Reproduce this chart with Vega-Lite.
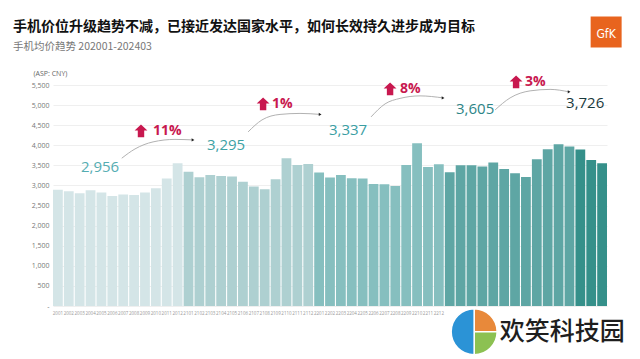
{
  "$schema": "https://vega.github.io/schema/vega-lite/v6.json",
  "width": 554,
  "height": 221,
  "autosize": {"type": "none"},
  "padding": {"left": 53, "top": 85, "right": 33, "bottom": 53},
  "background": "white",
  "config": {"view": {"stroke": null}, "font": "Noto Sans CJK SC"},
  "title": {
    "text": "手机价位升级趋势不减，已接近发达国家水平，如何长效持久进步成为目标",
    "subtitle": "手机均价趋势 202001-202403",
    "anchor": "start",
    "frame": "group",
    "dx": -40,
    "offset": -36,
    "font": "Noto Sans CJK SC",
    "fontSize": 14,
    "fontWeight": "bold",
    "color": "#111111",
    "subtitleFont": "Noto Sans CJK SC",
    "subtitleFontSize": 10.5,
    "subtitleColor": "#777777",
    "subtitlePadding": 8
  },
  "datasets": {
    "bars": [
      {"m": "2001", "v": 2890, "yr": "2020"}, {"m": "2002", "v": 2855, "yr": "2020"}, {"m": "2003", "v": 2805, "yr": "2020"},
      {"m": "2004", "v": 2880, "yr": "2020"}, {"m": "2005", "v": 2822, "yr": "2020"}, {"m": "2006", "v": 2740, "yr": "2020"},
      {"m": "2007", "v": 2772, "yr": "2020"}, {"m": "2008", "v": 2765, "yr": "2020"}, {"m": "2009", "v": 2822, "yr": "2020"},
      {"m": "2010", "v": 2930, "yr": "2020"}, {"m": "2011", "v": 3170, "yr": "2020"}, {"m": "2012", "v": 3553, "yr": "2020"},
      {"m": "2101", "v": 3344, "yr": "2021"}, {"m": "2102", "v": 3204, "yr": "2021"}, {"m": "2103", "v": 3262, "yr": "2021"},
      {"m": "2104", "v": 3237, "yr": "2021"}, {"m": "2105", "v": 3220, "yr": "2021"}, {"m": "2106", "v": 3095, "yr": "2021"},
      {"m": "2107", "v": 2971, "yr": "2021"}, {"m": "2108", "v": 2906, "yr": "2021"}, {"m": "2109", "v": 3155, "yr": "2021"},
      {"m": "2110", "v": 3678, "yr": "2021"}, {"m": "2111", "v": 3511, "yr": "2021"}, {"m": "2112", "v": 3536, "yr": "2021"},
      {"m": "2201", "v": 3320, "yr": "2022"}, {"m": "2202", "v": 3196, "yr": "2022"}, {"m": "2203", "v": 3262, "yr": "2022"},
      {"m": "2204", "v": 3179, "yr": "2022"}, {"m": "2205", "v": 3171, "yr": "2022"}, {"m": "2206", "v": 3038, "yr": "2022"},
      {"m": "2207", "v": 3030, "yr": "2022"}, {"m": "2208", "v": 2988, "yr": "2022"}, {"m": "2209", "v": 3511, "yr": "2022"},
      {"m": "2210", "v": 4051, "yr": "2022"}, {"m": "2211", "v": 3461, "yr": "2022"}, {"m": "2212", "v": 3528, "yr": "2022"},
      {"m": "2301", "v": 3329, "yr": "2023"}, {"m": "2302", "v": 3503, "yr": "2023"}, {"m": "2303", "v": 3503, "yr": "2023"},
      {"m": "2304", "v": 3469, "yr": "2023"}, {"m": "2305", "v": 3569, "yr": "2023"}, {"m": "2306", "v": 3411, "yr": "2023"},
      {"m": "2307", "v": 3304, "yr": "2023"}, {"m": "2308", "v": 3212, "yr": "2023"}, {"m": "2309", "v": 3653, "yr": "2023"},
      {"m": "2310", "v": 3902, "yr": "2023"}, {"m": "2311", "v": 4026, "yr": "2023"}, {"m": "2312", "v": 3967, "yr": "2023"},
      {"m": "2401", "v": 3892, "yr": "2024"}, {"m": "2402", "v": 3635, "yr": "2024"}, {"m": "2403", "v": 3553, "yr": "2024"}
    ],
    "vals": [
      {"idx": 4.33, "v": 3461, "t": "2,956", "yr": "2020"},
      {"idx": 15.93, "v": 4009, "t": "3,295", "yr": "2021"},
      {"idx": 27.16, "v": 4382, "t": "3,337", "yr": "2022"},
      {"idx": 38.86, "v": 4905, "t": "3,605", "yr": "2023"},
      {"idx": 48.99, "v": 5055, "t": "3,726", "yr": "2024"}
    ],
    "pct": [
      {"ai": 8.1, "ti": 9.2, "v": 4358, "t": "11%"},
      {"ai": 19.34, "ti": 20.17, "v": 5030, "t": "1%"},
      {"ai": 31.03, "ti": 31.95, "v": 5403, "t": "8%"},
      {"ai": 42.63, "ti": 43.46, "v": 5578, "t": "3%"}
    ],
    "curves": [
      {"g": 1, "idx": 6.33, "v": 3678}, {"g": 1, "idx": 7.55, "v": 3909}, {"g": 1, "idx": 9.21, "v": 4084}, {"g": 1, "idx": 11.23, "v": 4146}, {"g": 1, "idx": 12.89, "v": 4133},
      {"g": 2, "idx": 17.96, "v": 4333}, {"g": 2, "idx": 19.24, "v": 4631}, {"g": 2, "idx": 20.9, "v": 4768}, {"g": 2, "idx": 22.74, "v": 4793}, {"g": 2, "idx": 24.59, "v": 4768},
      {"g": 3, "idx": 29.28, "v": 4706}, {"g": 3, "idx": 30.57, "v": 5030}, {"g": 3, "idx": 31.95, "v": 5167}, {"g": 3, "idx": 33.79, "v": 5229}, {"g": 3, "idx": 35.91, "v": 5179},
      {"g": 4, "idx": 40.7, "v": 4880}, {"g": 4, "idx": 42.08, "v": 5179}, {"g": 4, "idx": 43.92, "v": 5354}, {"g": 4, "idx": 45.76, "v": 5391}, {"g": 4, "idx": 47.51, "v": 5329}
    ],
    "heads": [
      {"idx": 12.89, "v": 4133}, {"idx": 24.59, "v": 4768}, {"idx": 35.91, "v": 5179}, {"idx": 47.51, "v": 5329}
    ],
    "logo": [{"idx": 50.92, "v": 6819, "t": "GfK"}],
    "wm": [{"idx": 38.77, "ti": 46.87, "v": -640, "t": "欢笑科技园"}],
    "wmlogo": [
      {"idx": 38.77, "v": -640, "part": "1", "share": 1},
      {"idx": 38.77, "v": -640, "part": "2", "share": 1},
      {"idx": 38.77, "v": -640, "part": "3", "share": 2}
    ]
  },
  "encoding": {
    "y": {
      "field": "v",
      "type": "quantitative",
      "scale": {"domain": [0, 5500], "nice": false, "zero": true},
      "axis": {
        "title": "(ASP: CNY)",
        "titleAngle": 0,
        "titleX": -20,
        "titleY": -12,
        "titleAlign": "left",
        "titleBaseline": "middle",
        "titleFontSize": 7,
        "titleFontWeight": "normal",
        "titleColor": "#666666",
        "titleFont": "Open Sans",
        "values": [0, 500, 1000, 1500, 2000, 2500, 3000, 3500, 4000, 4500, 5000, 5500],
        "labelExpr": "datum.value == 0 ? '-' : format(datum.value, ',')",
        "labelFont": "Open Sans",
        "labelFontSize": 7,
        "labelColor": "#777777",
        "labelPadding": 4,
        "domain": false,
        "ticks": false,
        "gridColor": "#ebebeb",
        "gridWidth": 0.8
      }
    }
  },
  "layer": [
    {
      "data": {"name": "bars"},
      "mark": {"type": "bar"},
      "encoding": {
        "x": {
          "field": "m",
          "type": "ordinal",
          "sort": null,
          "scale": {"paddingInner": 0.1, "paddingOuter": 0},
          "axis": {
            "title": null,
            "labelFont": "Open Sans",
            "labelFontSize": 4.5,
            "labelColor": "#999999",
            "labelAngle": 0,
            "labelPadding": 4,
            "labelOverlap": false,
            "labelBound": false,
            "ticks": false,
            "domain": false,
            "labelExpr": "toNumber(datum.value) < 2300 ? datum.value : ''"
          }
        },
        "fill": {
          "field": "yr",
          "type": "nominal",
          "scale": {"domain": ["2020", "2021", "2022", "2023", "2024"], "range": ["#d4e5e7", "#aed0d1", "#86bfbf", "#5ea6a4", "#35908a"]},
          "legend": null
        }
      }
    },
    {
      "data": {"name": "curves"},
      "mark": {"type": "line", "interpolate": "monotone", "color": "#a8a8a8", "strokeWidth": 0.9},
      "encoding": {
        "x": {"field": "idx", "type": "quantitative", "scale": {"domain": [0, 51], "nice": false, "zero": false}, "axis": null},
        "detail": {"field": "g", "type": "nominal"}
      }
    },
    {
      "data": {"name": "heads"},
      "mark": {"type": "point", "shape": "triangle-right", "filled": true, "size": 10, "color": "#222222", "opacity": 1},
      "encoding": {
        "x": {"field": "idx", "type": "quantitative", "scale": {"domain": [0, 51], "nice": false, "zero": false}, "axis": null}
      }
    },
    {
      "data": {"name": "vals"},
      "mark": {"type": "text", "font": "Open Sans", "fontSize": 15, "align": "center", "baseline": "middle"},
      "encoding": {
        "x": {"field": "idx", "type": "quantitative", "scale": {"domain": [0, 51], "nice": false, "zero": false}, "axis": null},
        "text": {"field": "t"},
        "color": {
          "field": "yr",
          "type": "nominal",
          "scale": {"domain": ["2020", "2021", "2022", "2023", "2024"], "range": ["#55adb2", "#3da2a5", "#3a9ea3", "#2d8587", "#18393c"]},
          "legend": null
        }
      }
    },
    {
      "data": {"name": "pct"},
      "mark": {"type": "point", "shape": "M0,-1L1,-0.05L0.5,-0.05L0.5,1L-0.5,1L-0.5,-0.05L-1,-0.05Z", "filled": true, "size": 165, "color": "#c8184f", "opacity": 1},
      "encoding": {
        "x": {"field": "ai", "type": "quantitative", "scale": {"domain": [0, 51], "nice": false, "zero": false}, "axis": null}
      }
    },
    {
      "data": {"name": "pct"},
      "mark": {"type": "text", "font": "Open Sans", "fontSize": 14, "fontWeight": "bold", "align": "left", "baseline": "middle", "color": "#c8184f"},
      "encoding": {
        "x": {"field": "ti", "type": "quantitative", "scale": {"domain": [0, 51], "nice": false, "zero": false}, "axis": null},
        "text": {"field": "t"}
      }
    },
    {
      "data": {"name": "logo"},
      "mark": {"type": "point", "shape": "square", "filled": true, "size": 961, "color": "#e8641e", "opacity": 1},
      "encoding": {
        "x": {"field": "idx", "type": "quantitative", "scale": {"domain": [0, 51], "nice": false, "zero": false}, "axis": null}
      }
    },
    {
      "data": {"name": "logo"},
      "mark": {"type": "text", "font": "DejaVu Sans Condensed", "fontSize": 12, "align": "center", "baseline": "middle", "color": "white", "dy": 2},
      "encoding": {
        "x": {"field": "idx", "type": "quantitative", "scale": {"domain": [0, 51], "nice": false, "zero": false}, "axis": null},
        "text": {"field": "t"}
      }
    },
    {
      "data": {"name": "wmlogo"},
      "mark": {"type": "arc", "outerRadius": 23, "stroke": "white", "strokeWidth": 1.5},
      "encoding": {
        "x": {"field": "idx", "type": "quantitative", "scale": {"domain": [0, 51], "nice": false, "zero": false}, "axis": null},
        "theta": {"field": "share", "type": "quantitative", "stack": true},
        "fill": {
          "field": "part",
          "type": "nominal",
          "scale": {"domain": ["1", "2", "3"], "range": ["#e8893a", "#8cc152", "#2b93d6"]},
          "legend": null
        },
        "order": {"field": "part", "type": "ordinal"}
      }
    },
    {
      "data": {"name": "wm"},
      "mark": {"type": "text", "font": "Noto Sans CJK SC", "fontSize": 25, "fontWeight": 500, "align": "center", "baseline": "middle", "color": "#1e1e1e"},
      "encoding": {
        "x": {"field": "ti", "type": "quantitative", "scale": {"domain": [0, 51], "nice": false, "zero": false}, "axis": null},
        "text": {"field": "t"}
      }
    }
  ],
  "resolve": {"scale": {"x": "independent", "fill": "independent"}}
}
